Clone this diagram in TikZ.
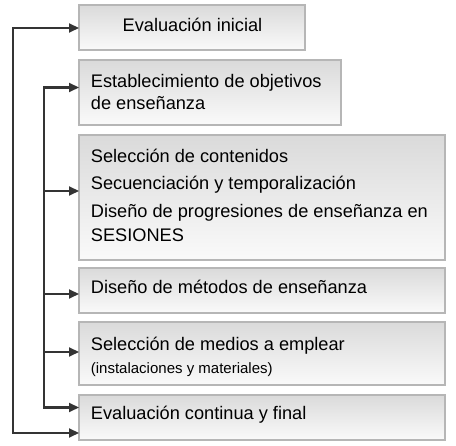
\documentclass[tikz,border=0pt]{standalone}
\usepackage{fontspec}
\setmainfont{Liberation Sans}
\usetikzlibrary{arrows.meta}
\definecolor{boxborder}{RGB}{182,182,182}
\definecolor{boxtop}{RGB}{218,218,218}
\definecolor{boxbot}{RGB}{250,250,250}
\definecolor{linecol}{RGB}{52,52,52}
\tikzset{
  box/.style={draw=boxborder, line width=1.8pt, top color=boxtop, bottom color=boxbot, inner sep=0pt, outer sep=0pt},
  txt/.style={anchor=base west, inner sep=0pt, font=\fontsize{18.2}{22}\selectfont, text=black},
  smalltxt/.style={anchor=base west, inner sep=0pt, font=\fontsize{15}{18}\selectfont, text=black},
  conn/.style={draw=linecol, line width=2.1pt, -{Triangle[length=10pt,width=9pt]}, line join=miter},
  plain/.style={draw=linecol, line width=2.1pt, line cap=rect}
}
\begin{document}
\begin{tikzpicture}[x=1pt,y=-1pt]
\useasboundingbox (0,0) rectangle (456,446);
% boxes
\node[box, minimum width=226pt, minimum height=45pt] (b1) at (192,27.5) {};
\node[box, minimum width=262pt, minimum height=65pt] (b2) at (210,92.5) {};
\node[box, minimum width=366pt, minimum height=125pt] (b3) at (262,197.5) {};
\node[box, minimum width=366pt, minimum height=45pt] (b4) at (262,290.5) {};
\node[box, minimum width=366pt, minimum height=63pt] (b5) at (262,353.5) {};
\node[box, minimum width=366pt, minimum height=45pt] (b6) at (262,417.5) {};
% texts
\node[txt, anchor=base] (t1) at (192.5,31.7) {Evaluación inicial};
\node[txt] (t2a) at (90.7,87.3) {Establecimiento de objetivos};
\node[txt] (t2b) at (90.7,110) {de enseñanza};
\node[txt] (t3a) at (90.7,162.5) {Selección de contenidos};
\node[txt] (t3b) at (90.7,190) {Secuenciación y temporalización};
\node[txt] (t3c) at (90.7,217.3) {Diseño de progresiones de enseñanza en};
\node[txt] (t3d) at (90.7,241.8) {SESIONES};
\node[txt] (t4) at (90.7,293.3) {Diseño de métodos de enseñanza};
\node[txt] (t5a) at (90.7,350.5) {Selección de medios a emplear};
\node[smalltxt] (t5b) at (90.7,374) {(instalaciones y materiales)};
\node[txt] (t6) at (90.7,419.3) {Evaluación continua y final};
% connectors
\coordinate (o1) at (13,28);
\coordinate (o2) at (13,433);
\coordinate (i1) at (44,87.5);
\coordinate (i2) at (44,191);
\coordinate (i3) at (44,294);
\coordinate (i4) at (44,352);
\coordinate (i5) at (44,407.5);
\draw[plain] (o1) -- (o2);
\draw[plain] (i1) -- (i5);
\draw[conn] (o1) -- (o1 -| b1.west);
\draw[conn] (o2) -- (o2 -| b6.west);
\draw[conn] (i1) -- (i1 -| b2.west);
\draw[conn] (i2) -- (i2 -| b3.west);
\draw[conn] (i3) -- (i3 -| b4.west);
\draw[conn] (i4) -- (i4 -| b5.west);
\draw[conn] (i5) -- (i5 -| b6.west);
\end{tikzpicture}
\end{document}
